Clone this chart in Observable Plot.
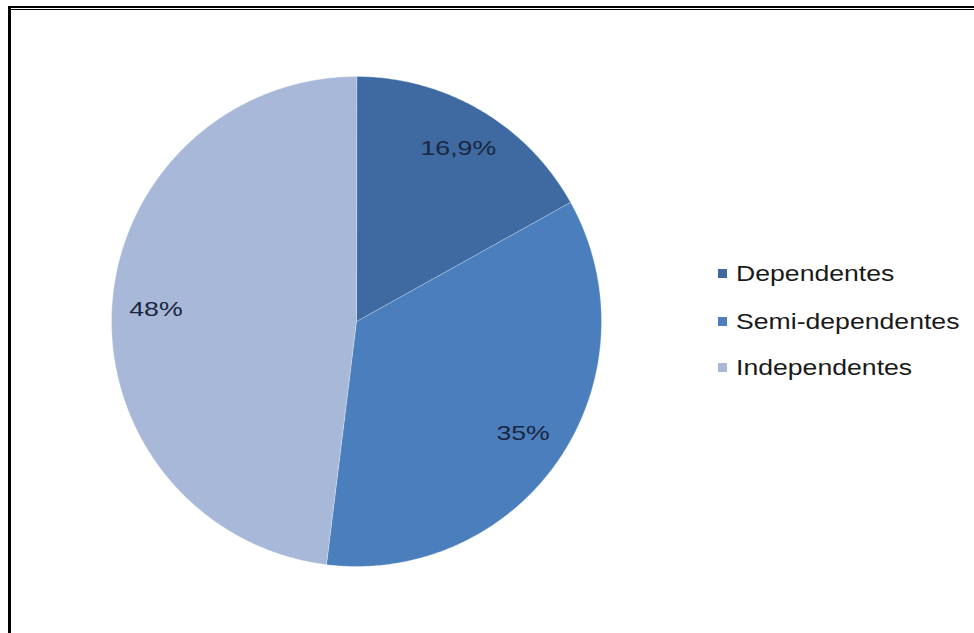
<!DOCTYPE html>
<html>
<head>
<meta charset="utf-8">
<script src="https://cdn.jsdelivr.net/npm/d3@7"></script>
<script src="https://cdn.jsdelivr.net/npm/@observablehq/plot@0.6"></script>
<style>
  html, body { margin: 0; padding: 0; background: #fff; }
  #wrap { position: relative; width: 974px; height: 633px; overflow: hidden; font-family: "Liberation Sans", Arial, sans-serif; }
  .frame { position: absolute; background: #000; }
  #legend { position: absolute; left: 718px; top: 0; }
  .row { position: absolute; left: 0; white-space: nowrap; height: 26px; line-height: 26px; }
  .sw { position: absolute; left: 0; top: 8px; width: 9px; height: 9px; }
  .lt { position: absolute; left: 18px; top: 0; font-size: 22px; color: #1a1a1a; transform: scaleX(1.21); transform-origin: left center; }
</style>
</head>
<body>
<div id="wrap">
  <div class="frame" style="left:8px;top:6px;width:966px;height:2px;"></div>
  <div class="frame" style="left:8px;top:9px;width:966px;height:1px;"></div>
  <div class="frame" style="left:8px;top:6px;width:3px;height:627px;"></div>
  <div id="chart" style="position:absolute;left:0;top:0;"></div>
  <div id="legend"></div>
</div>
<script>
const categories = ["Dependentes", "Semi-dependentes", "Independentes"];
const values = [16.9, 35, 48];
const labels = ["16,9%", "35%", "48%"];
const colors = ["#3e6aa1", "#4a7ebd", "#a8b8d9"];

const arcs = d3.pie().sort(null).startAngle(0).endAngle(2 * Math.PI)(values);

const points = [];
arcs.forEach((a, i) => {
  points.push({cat: categories[i], x: 0, y: 0});
  const n = Math.max(2, Math.ceil((a.endAngle - a.startAngle) / (Math.PI / 360)));
  for (let k = 0; k <= n; k++) {
    const t = a.startAngle + (a.endAngle - a.startAngle) * k / n;
    points.push({cat: categories[i], x: Math.sin(t), y: Math.cos(t)});
  }
});

const labelData = arcs.map((a, i) => {
  const m = (a.startAngle + a.endAngle) / 2;
  return {cat: categories[i], text: labels[i], x: 0.82 * Math.sin(m), y: 0.82 * Math.cos(m)};
});

const plot = Plot.plot({
  width: 974,
  height: 633,
  margin: 0,
  x: {domain: [-1, 1], range: [111, 601], axis: null},
  y: {domain: [-1, 1], range: [566, 76], axis: null},
  color: {domain: categories, range: colors},
  style: {background: "transparent", fontFamily: "Liberation Sans, Arial, sans-serif"},
  marks: [
    Plot.line(points, {x: "x", y: "y", z: "cat", fill: "cat", stroke: "#ffffff", strokeWidth: 0.6, strokeOpacity: 0.5, curve: "linear-closed"}),
    Plot.text(labelData, {x: "x", y: "y", text: "text", fontSize: 21, fill: "#1a2640", className: "pielabel"})
  ]
});
document.getElementById("chart").appendChild(plot);
// widen the label glyphs horizontally like the reference
plot.querySelectorAll(".pielabel text").forEach(t => {
  const tr = t.getAttribute("transform") || "";
  t.setAttribute("transform", tr + " scale(1.27,1)");
});

const legend = document.getElementById("legend");
const rowCenters = [274, 322, 368];
categories.forEach((c, i) => {
  const row = document.createElement("div");
  row.className = "row";
  row.style.top = (rowCenters[i] - 13) + "px";
  const sw = document.createElement("div");
  sw.className = "sw";
  sw.style.background = colors[i];
  const lt = document.createElement("div");
  lt.className = "lt";
  lt.textContent = c;
  row.appendChild(sw);
  row.appendChild(lt);
  legend.appendChild(row);
});
</script>
</body>
</html>
